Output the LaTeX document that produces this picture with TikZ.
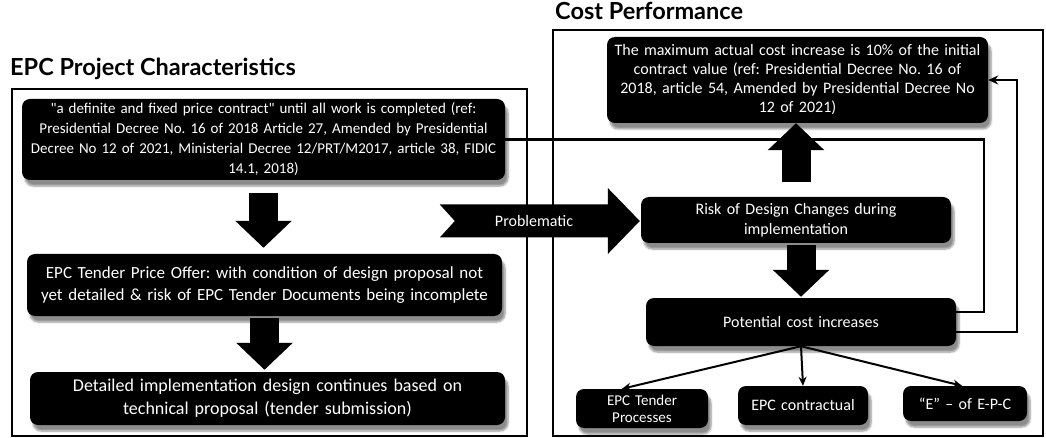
\documentclass[tikz,border=0pt]{standalone}
\usepackage{fontspec}
\setmainfont{Carlito}[Ligatures=TeXOff]
\newfontfamily\headfont{Lato}
\usetikzlibrary{arrows.meta, calc, shadows.blur}
\frenchspacing

\begin{document}
\begin{tikzpicture}[
  x=1pt, y=-1pt,
  every node/.style={inner sep=0pt},
  frame/.style={draw, line width=2.4pt},
  title/.style={anchor=base west, font=\headfont\bfseries\fontsize{23.5}{28}\selectfont},
  blk/.style={rectangle, rounded corners=8pt, fill=black, text=white, align=center,
    blur shadow={shadow xshift=3pt, shadow yshift=-6pt, shadow blur steps=6, shadow opacity=45}},
  fat/.style={draw, line width=29pt, -{Triangle[length=27pt, width=55pt]}},
  link/.style={draw, line width=2.4pt},
  thin/.style={draw, line width=2pt, -{Stealth[length=9pt, width=8pt]}}]

  \useasboundingbox (0,0) rectangle (1046,438);

  % the two frames and their titles
  \node[frame, minimum width=515pt, minimum height=347pt] (charfr) at (269.5,262.5) {};
  \node[frame, minimum width=490pt, minimum height=406pt] (costfr) at (798,233) {};
  \node[title] (chartl) at (10,76) {EPC Project Characteristics};
  \node[title] (costtl) at (555,20) {Cost Performance};

  % left column
  \node[blk, text width=483pt, minimum height=81pt, font=\fontsize{15}{20}\selectfont] (defin) at (263.5,139.5)
    {"a definite and fixed price contract" until all work is completed (ref:\\
     Presidential Decree No. 16 of 2018 Article 27, Amended by Presidential\\
     Decree No 12 of 2021, Ministerial Decree 12/PRT/M2017, article 38, FIDIC\\
     14.1, 2018)};
  \node[blk, text width=475pt, minimum height=62pt, font=\fontsize{17}{21.5}\selectfont] (offer) at (264.5,285)
    {EPC Tender Price Offer: with condition of design proposal not\\
     yet detailed \& risk of EPC Tender Documents being incomplete};
  \node[blk, text width=475pt, minimum height=53pt, font=\fontsize{18}{23}\selectfont] (design) at (267.5,398.5)
    {Detailed implementation design continues based on\\
     technical proposal (tender submission)};

  % right column
  \node[blk, text width=381pt, minimum height=86pt, font=\fontsize{16}{19}\selectfont] (maxcost) at (797.5,80)
    {The maximum actual cost increase is 10\% of the initial\\
     contract value (ref: Presidential Decree No. 16 of\\
     2018, article 54, Amended by Presidential Decree No\\
     12 of 2021)};
  \node[blk, text width=310pt, minimum height=46pt, font=\fontsize{16}{20}\selectfont] (risk) at (796,220)
    {Risk of Design Changes during\\ implementation};
  \node[blk, text width=310pt, minimum height=48pt, font=\fontsize{16}{20}\selectfont] (potcost) at (801,322)
    {Potential cost increases};
  \node[blk, text width=132pt, minimum height=39pt, font=\fontsize{15}{17}\selectfont] (tender) at (642,408.5)
    {EPC Tender\\ Processes};
  \node[blk, text width=130pt, minimum height=39pt, font=\fontsize{16}{20}\selectfont] (contract) at (803,405.5)
    {EPC contractual};
  \node[blk, text width=124pt, minimum height=35pt, font=\fontsize{16}{20}\selectfont] (epce) at (965,403.5)
    {“E” – of E-P-C};

  % block arrows
  \draw[fat, shorten <=13pt, shorten >=6pt] (defin.south) -- (defin.south |- offer.north);
  \draw[fat, shorten <=2pt, shorten >=2pt] (offer.south) -- (offer.south |- design.north);
  \draw[fat, shorten <=15pt] (risk.north) -- (risk.north |- maxcost.south);
  \draw[fat, shorten <=2pt, shorten >=1pt] (potcost.north |- risk.south) -- (potcost.north);

  \coordinate (ptip) at ($(risk.west)+(-1,1)$);
  \fill (ptip) -- ++(-32,-33) -- ++(0,16.5) -- ++(-168,0) -- ++(15,16.5) -- ++(-15,16.5)
    -- ++(168,0) -- ++(0,16.5) -- cycle;
  \node[text=white, font=\fontsize{16}{18}\selectfont] (probl) at (534,221) {Problematic};

  % feedback lines
  \draw[link] (defin.east) -| ($(potcost.east)+(28,-10)$) -- ($(potcost.east)+(0,-10)$);
  \draw[link, -{Stealth[length=10pt, width=9pt]}] ($(potcost.east)+(0,10)$) -- ++(61,0) |- (maxcost.east);

  % consequences
  \draw[thin] (potcost.south) -- ([xshift=-20pt]tender.north);
  \draw[thin] (potcost.south) -- (contract.north);
  \draw[thin] (potcost.south) -- ([xshift=-3pt]epce.north);

\end{tikzpicture}
\end{document}
